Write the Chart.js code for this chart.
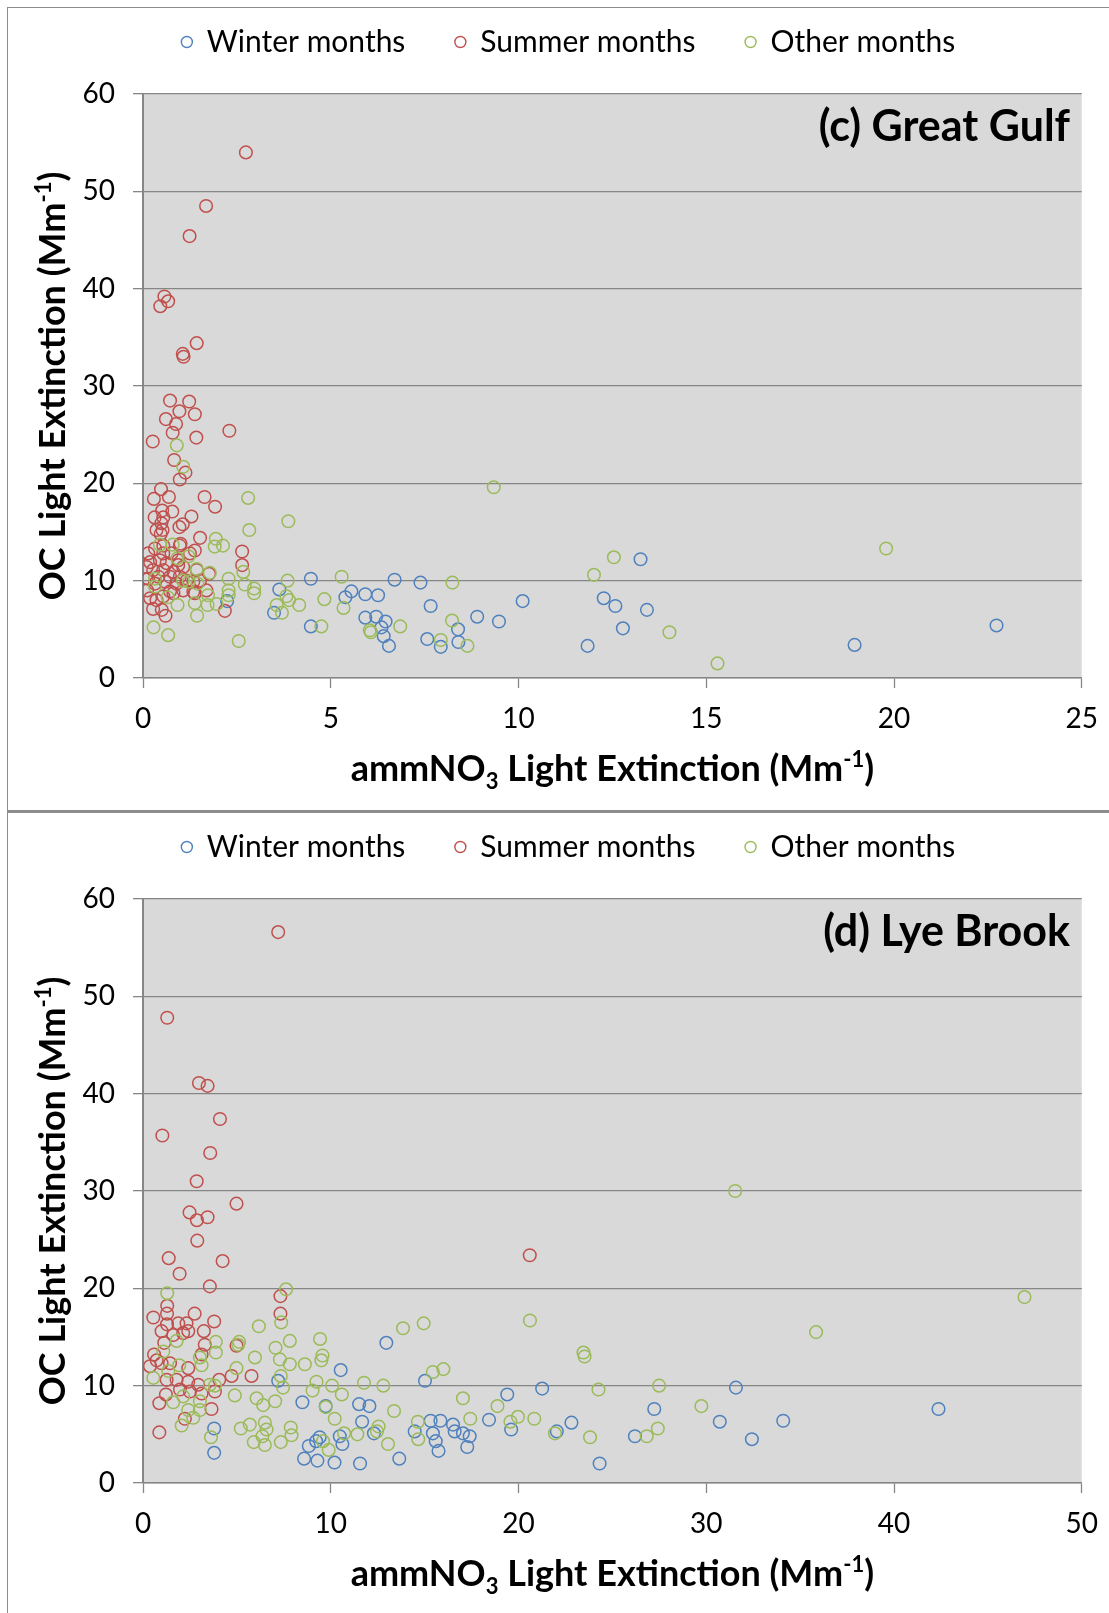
<!DOCTYPE html>
<html>
<head>
<meta charset="utf-8">
<script src="https://cdn.jsdelivr.net/npm/chart.js@4.4.1/dist/chart.umd.min.js"></script>
<style>
  html, body { margin: 0; padding: 0; background: #fff; overflow: hidden; }
  .panel { position: absolute; left: 7px; width: 1104px; height: 802px; border: 1px solid #8c8c8c; background: #fff; }
  #panelTop { top: 7px; border-bottom-width: 2px; }
  #panelBottom { top: 812px; }
  .panel canvas { display: block; }
</style>
</head>
<body>
<div class="panel" id="panelTop"><canvas id="gulfChart" width="1104" height="802"></canvas></div>
<div class="panel" id="panelBottom"><canvas id="brookChart" width="1104" height="802"></canvas></div>

<script>
// ammNO3 vs OC light extinction, [x, y] pairs in Mm-1
const gulfWinter = [
  [2.24,7.9],[4.47,10.2],[3.63,9.1],[3.49,6.7],[4.47,5.3],[5.55,8.9],[5.39,8.3],[5.92,8.6],[6.26,8.5],
  [6.70,10.1],[7.39,9.8],[7.66,7.4],[5.92,6.2],[6.21,6.3],[6.46,5.8],[6.35,5.2],[6.41,4.3],[6.55,3.3],
  [7.57,4.0],[7.93,3.2],[8.39,5.0],[8.40,3.7],[8.90,6.3],[9.48,5.8],[10.11,7.9],[13.25,12.2],[12.27,8.2],
  [12.58,7.4],[13.42,7.0],[12.78,5.1],[11.84,3.3],[18.95,3.4],[22.73,5.4]
];
const gulfSummer = [
  [2.74,54.0],[1.68,48.5],[1.24,45.4],[0.57,39.2],[0.67,38.7],[0.46,38.2],[1.43,34.4],[1.06,33.3],[1.08,33.0],
  [0.72,28.5],[1.23,28.4],[0.97,27.4],[1.38,27.1],[0.61,26.6],[0.88,26.1],[2.30,25.4],[0.79,25.2],[1.42,24.7],
  [0.26,24.3],[0.83,22.4],[1.13,21.1],[0.98,20.4],[0.48,19.4],[0.29,18.4],[0.69,18.6],[1.64,18.6],[1.92,17.6],
  [0.51,17.2],[0.78,17.1],[1.29,16.6],[0.31,16.5],[0.54,16.5],[0.49,15.9],[1.06,15.8],[0.97,15.5],[0.36,15.2],
  [0.52,15.2],[0.47,14.8],[1.52,14.4],[1.00,13.8],[1.38,13.1],[2.64,13.0],[0.14,12.8],[2.64,11.6],[1.76,10.7],
  [2.18,6.9],[0.60,6.4],[1.69,9.0],[1.38,8.7],[0.32,13.3],[0.54,13.6],[0.98,13.6],[0.76,12.8],[0.45,12.1],
  [0.19,11.9],[0.63,11.8],[0.94,12.1],[0.27,11.1],[0.54,11.1],[0.81,10.9],[0.14,10.2],[0.41,10.4],[0.72,10.4],
  [0.98,10.4],[0.32,9.7],[0.59,9.9],[0.89,9.7],[1.16,10.0],[1.34,9.9],[1.52,10.0],[0.19,8.2],[0.36,8.0],
  [0.54,8.4],[0.81,8.7],[1.07,9.0],[1.34,8.85],[0.27,7.1],[0.50,7.0],[0.94,11.6],[1.07,11.4],[0.72,8.9],
  [1.43,11.1],[1.25,12.8],[0.54,12.8],[0.10,11.4],[0.11,9.0]
];
const gulfOther = [
  [0.90,23.9],[1.07,21.7],[2.80,18.5],[3.87,16.1],[2.83,15.2],[1.94,14.3],[1.91,13.5],[2.13,13.6],[0.45,13.7],
  [0.79,13.7],[1.21,12.5],[0.92,12.3],[9.34,19.6],[1.43,11.2],[1.78,10.8],[2.28,10.2],[2.67,10.9],[1.06,10.0],
  [1.22,9.9],[1.45,9.7],[3.85,10.0],[5.29,10.4],[0.32,10.2],[0.32,9.4],[2.71,9.6],[2.96,9.2],[2.96,8.7],
  [2.28,9.0],[2.28,8.5],[1.73,8.5],[8.24,9.8],[3.82,8.4],[3.89,8.0],[4.16,7.5],[3.56,7.5],[3.70,6.7],
  [4.83,8.1],[5.34,7.2],[0.66,8.3],[0.92,7.5],[1.38,7.7],[1.72,7.5],[1.96,7.6],[1.44,6.4],[0.28,5.2],
  [0.67,4.4],[2.55,3.8],[4.75,5.3],[6.04,4.9],[6.07,4.7],[6.85,5.3],[8.23,5.9],[7.93,3.9],[8.64,3.3],
  [12.54,12.4],[12.01,10.6],[14.02,4.7],[15.30,1.5],[19.79,13.3]
];

const brookWinter = [
  [31.58,9.8],[42.37,7.6],[34.10,6.4],[30.72,6.3],[32.43,4.5],[27.23,7.6],[26.20,4.8],[24.32,2.0],[22.82,6.2],
  [22.04,5.3],[21.26,9.7],[19.40,9.1],[18.43,6.5],[19.61,5.5],[12.96,14.4],[10.53,11.6],[7.20,10.5],[15.02,10.5],
  [8.49,8.3],[9.73,7.9],[11.51,8.1],[12.06,7.9],[11.67,6.3],[3.79,5.6],[3.79,3.1],[15.32,6.4],[15.84,6.4],
  [16.51,6.0],[16.60,5.3],[17.04,5.1],[17.40,4.8],[14.47,5.3],[15.44,5.1],[15.59,4.3],[15.74,3.3],[17.27,3.7],
  [12.30,5.1],[10.48,4.8],[10.62,4.0],[9.41,4.7],[9.22,4.3],[8.83,3.8],[8.58,2.5],[9.29,2.3],[10.20,2.1],
  [11.56,2.0],[13.65,2.5]
];
const brookSummer = [
  [7.20,56.6],[1.29,47.8],[2.98,41.1],[3.44,40.8],[4.10,37.4],[1.03,35.7],[3.58,33.9],[2.86,31.0],[4.98,28.7],
  [2.48,27.8],[2.87,27.0],[3.44,27.3],[2.89,24.9],[1.37,23.1],[4.24,22.8],[1.95,21.5],[3.56,20.2],[7.32,19.2],
  [1.29,18.2],[1.28,17.4],[7.32,17.4],[2.75,17.4],[0.55,17.0],[3.79,16.6],[1.88,16.4],[2.32,16.4],[1.28,16.3],
  [0.99,15.6],[1.61,15.2],[2.14,15.4],[2.41,15.6],[3.24,15.6],[3.29,14.2],[1.13,14.4],[3.12,13.2],[4.98,14.1],
  [0.59,13.2],[0.37,12.0],[0.73,12.6],[0.99,12.3],[1.44,12.3],[2.41,11.8],[4.72,11.0],[5.78,11.0],[4.06,10.6],
  [2.94,10.1],[1.26,10.6],[1.79,10.6],[2.41,10.4],[1.97,9.6],[2.50,9.4],[3.12,9.2],[3.83,9.4],[1.22,9.1],
  [0.87,8.2],[3.65,7.6],[2.23,6.6],[0.87,5.2],[20.6,23.4]
];
const brookOther = [
  [31.54,30.0],[46.95,19.1],[35.85,15.5],[20.61,16.7],[23.46,13.4],[23.52,13.0],[24.26,9.6],[27.49,10.0],
  [29.74,7.9],[18.88,7.9],[19.97,6.8],[19.57,6.3],[20.84,6.6],[21.94,5.1],[23.81,4.7],[26.83,4.8],[27.42,5.6],
  [7.62,19.9],[1.29,19.5],[6.17,16.1],[7.36,16.5],[13.85,15.9],[14.95,16.4],[1.79,14.6],[3.88,14.5],[3.88,13.4],
  [5.12,14.5],[5.07,14.2],[7.06,13.9],[7.82,14.6],[9.43,14.8],[1.08,13.5],[5.96,12.9],[7.29,12.7],[7.82,12.2],
  [8.62,12.2],[9.56,13.1],[9.50,12.6],[3.03,12.9],[3.12,12.1],[1.93,12.1],[4.98,11.8],[1.35,11.5],[0.55,10.8],
  [7.34,11.0],[7.46,9.8],[9.24,10.4],[9.03,9.5],[10.07,10.0],[10.59,9.1],[11.77,10.3],[12.80,10.0],[15.44,11.4],
  [16.00,11.7],[3.56,10.1],[3.83,10.0],[4.89,9.0],[6.05,8.7],[6.40,8.0],[7.04,8.4],[9.73,7.8],[10.21,6.6],
  [13.37,7.4],[17.04,8.7],[17.43,6.6],[14.64,6.3],[14.66,4.5],[13.05,4.0],[11.42,5.0],[12.55,5.8],[12.46,5.3],
  [10.71,5.1],[9.59,4.3],[9.89,3.4],[7.87,5.7],[7.91,4.9],[7.34,4.2],[6.49,6.2],[6.58,5.5],[6.36,4.8],
  [6.49,3.9],[5.90,4.2],[5.69,6.0],[5.21,5.6],[3.62,4.7],[1.61,8.3],[2.14,8.9],[2.41,7.5],[2.68,6.7],
  [2.06,5.9],[3.03,8.4],[3.03,7.5]
];

const seriesLabels = ['Winter months', 'Summer months', 'Other months'];
const gulfXTicks = [0, 5, 10, 15, 20, 25];
const brookXTicks = [0, 10, 20, 30, 40, 50];
const yTicks = [0, 10, 20, 30, 40, 50, 60];

const COLORS = ['#4f81bd', '#c0504d', '#9bbb59'];
const GRID = '#868686';
const PLOT_BG = '#d9d9d9';
const FONT = "Lato, 'Open Sans', sans-serif";

// text pieces for the axis titles (sub/superscripts drawn smaller and shifted)
const xTitleParts = [{ t: 'ammNO' }, { t: '3', sub: true }, { t: ' Light Extinction (Mm' }, { t: '-1', sup: true }, { t: ')' }];
const yTitleParts = [{ t: 'OC Light Extinction (Mm' }, { t: '-1', sup: true }, { t: ')' }];

function drawRich(ctx, parts, size) {
    const small = Math.round(size * 0.62);
    const fontOf = p => `bold ${p.sub || p.sup ? small : size}px ${FONT}`;
    const widths = parts.map(p => { ctx.font = fontOf(p); return ctx.measureText(p.t).width; });
    let x = -widths.reduce((a, b) => a + b, 0) / 2;
    parts.forEach((p, i) => {
        ctx.font = fontOf(p);
        const dy = p.sub ? size * 0.22 : p.sup ? -size * 0.38 : 0;
        ctx.fillText(p.t, x, dy);
        x += widths[i];
    });
}

const panelDecor = {
    id: 'panelDecor',
    beforeDraw(chart) {
        const { ctx, chartArea: a } = chart;
        ctx.save();
        ctx.fillStyle = PLOT_BG;
        ctx.fillRect(a.left, a.top, a.right - a.left, a.bottom - a.top);
        ctx.restore();
    },
    afterDraw(chart, args, opts) {
        const { ctx, chartArea: a } = chart;
        ctx.save();
        ctx.fillStyle = '#000';
        ctx.textBaseline = 'middle';

        // legend row
        ctx.font = `30px ${FONT}`;
        const items = chart.data.datasets.map(ds => ({ text: ds.label, color: ds.pointBorderColor, w: ctx.measureText(ds.label).width }));
        const total = items.reduce((s, it) => s + 26 + it.w, 0) + 49 * (items.length - 1);
        let x = chart.width / 2 - total / 2 + 8;
        items.forEach(it => {
            ctx.beginPath();
            ctx.arc(x + 6, 34, 5.5, 0, Math.PI * 2);
            ctx.strokeStyle = it.color;
            ctx.lineWidth = 1.4;
            ctx.stroke();
            ctx.fillStyle = '#000';
            ctx.textAlign = 'left';
            ctx.fillText(it.text, x + 26, 34);
            x += 26 + it.w + 49;
        });

        // panel label in the top right of the plot
        ctx.textBaseline = 'alphabetic';
        ctx.textAlign = 'right';
        ctx.font = `bold 43px ${FONT}`;
        ctx.fillText(opts.title, 1062, 133);

        // axis titles
        ctx.textAlign = 'left';
        ctx.save();
        ctx.translate((a.left + a.right) / 2, 773);
        drawRich(ctx, xTitleParts, 36);
        ctx.restore();

        ctx.save();
        ctx.translate(57, (a.top + a.bottom) / 2);
        ctx.rotate(-Math.PI / 2);
        drawRich(ctx, yTitleParts, 36);
        ctx.restore();

        ctx.restore();
    }
};

function toPoints(pairs) {
    return pairs.map(([x, y]) => ({ x, y }));
}

function buildChart(canvasId, winter, summer, other, xTicks, title) {
    const groups = [winter, summer, other];
    const datasets = groups.map((pairs, i) => ({
        label: seriesLabels[i],
        data: toPoints(pairs),
        pointRadius: 6.3,
        pointHoverRadius: 6.3,
        pointBorderWidth: 1.5,
        pointBorderColor: COLORS[i],
        pointBackgroundColor: 'rgba(0,0,0,0)',
        showLine: false,
        order: 3 - i
    }));

    return new Chart(document.getElementById(canvasId), {
        type: 'scatter',
        data: { datasets },
        plugins: [panelDecor],
        options: {
            responsive: false,
            animation: false,
            layout: { padding: { top: 86, right: 29, bottom: 0, left: 0 } },
            plugins: {
                legend: { display: false },
                tooltip: { enabled: false },
                panelDecor: { title }
            },
            scales: {
                x: {
                    type: 'linear',
                    min: xTicks[0],
                    max: xTicks[xTicks.length - 1],
                    afterBuildTicks: scale => { scale.ticks = xTicks.map(v => ({ value: v })); },
                    afterFit: scale => { scale.height = 132; },
                    grid: { drawOnChartArea: false, drawTicks: true, tickLength: 10, tickColor: GRID, tickWidth: 1.3 },
                    border: { color: GRID, width: 1.5 },
                    ticks: { color: '#000', font: { family: FONT, size: 28 }, padding: 14, maxRotation: 0, autoSkip: false }
                },
                y: {
                    type: 'linear',
                    min: 0,
                    max: 60,
                    afterBuildTicks: scale => { scale.ticks = yTicks.map(v => ({ value: v })); },
                    afterFit: scale => { scale.width = 135; },
                    grid: { color: GRID, lineWidth: 1.3, drawTicks: true, tickLength: 10, tickColor: GRID },
                    border: { color: GRID, width: 2 },
                    ticks: { color: '#000', font: { family: FONT, size: 28 }, padding: 18, autoSkip: false }
                }
            }
        }
    });
}

buildChart('gulfChart', gulfWinter, gulfSummer, gulfOther, gulfXTicks, '(c) Great Gulf');
buildChart('brookChart', brookWinter, brookSummer, brookOther, brookXTicks, '(d) Lye Brook');
</script>
</body>
</html>
